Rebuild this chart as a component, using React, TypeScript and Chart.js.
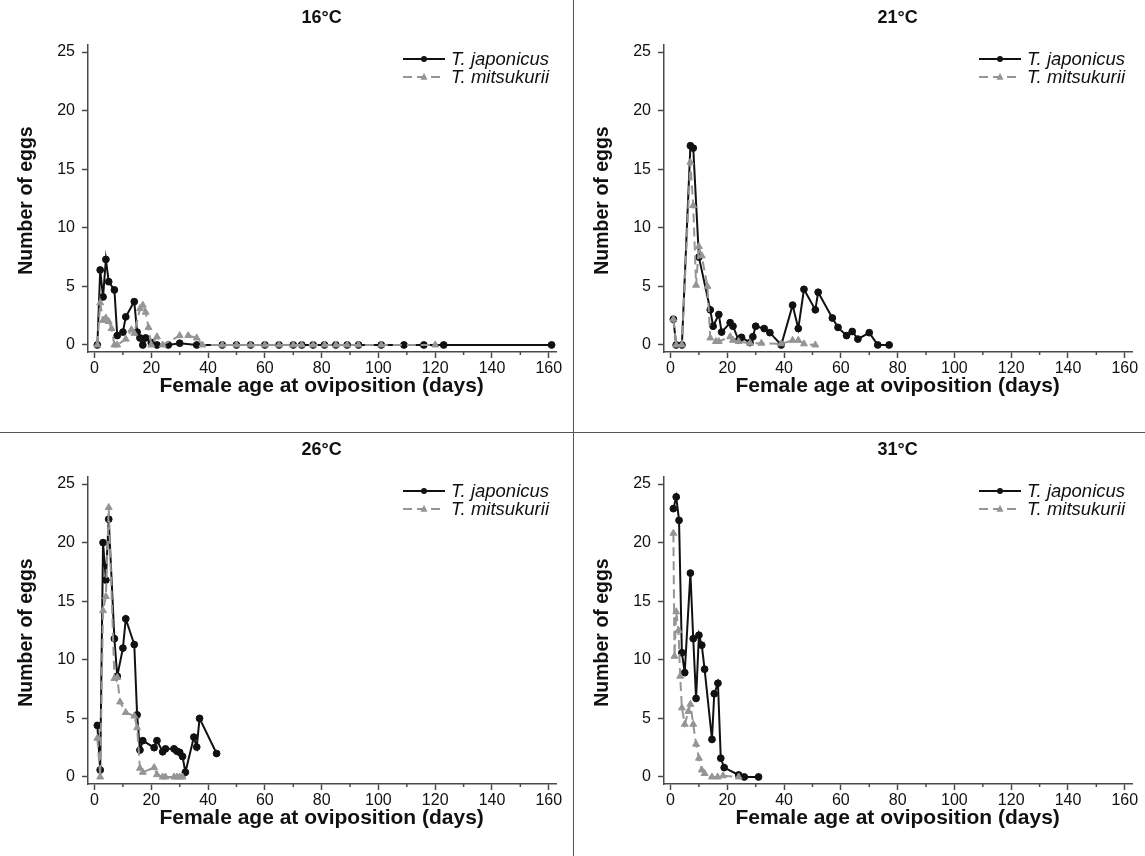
import React, { useEffect, useRef } from 'react';
import { Chart, registerables } from 'chart.js';

Chart.register(...registerables);

const FONT = '"Liberation Sans", Arial, Helvetica, sans-serif';

// ---- Data (female age in days, mean number of eggs) ----
// 16°C
const jap16Days = [1, 2, 3, 4, 5, 7, 8, 10, 11, 14, 15, 16, 17, 18, 20, 22, 26, 30, 36, 45, 50, 55, 60, 65, 70, 73, 77, 81, 85, 89, 93, 101, 109, 116, 123, 161];
const jap16Eggs = [0, 6.4, 4.1, 7.3, 5.4, 4.7, 0.8, 1.1, 2.4, 3.7, 1.1, 0.6, 0, 0.6, 0.2, 0, 0, 0.15, 0, 0, 0, 0, 0, 0, 0, 0, 0, 0, 0, 0, 0, 0, 0, 0, 0, 0];
const mit16Days = [1, 2, 3, 4, 5, 6, 7, 8, 11, 13, 14, 16, 17, 18, 19, 20, 22, 24, 30, 33, 36, 38, 45, 50, 55, 60, 65, 70, 73, 77, 81, 85, 89, 93, 101, 120];
const mit16Eggs = [0, 3.6, 2.1, 2.3, 2.0, 1.4, 0, 0, 0.5, 1.3, 1.0, 3.1, 3.4, 2.8, 1.5, 0, 0.7, 0, 0.8, 0.8, 0.6, 0, 0, 0, 0, 0, 0, 0, 0, 0, 0, 0, 0, 0, 0, 0];

// 21°C
const jap21Days = [1, 2, 4, 7, 8, 10, 14, 15, 17, 18, 21, 22, 24, 25, 28, 29, 30, 33, 35, 39, 43, 45, 47, 51, 52, 57, 59, 62, 64, 66, 70, 73, 77];
const jap21Eggs = [2.2, 0, 0, 17.0, 16.8, 7.5, 3.0, 1.6, 2.6, 1.1, 1.9, 1.6, 0.4, 0.65, 0.2, 0.7, 1.6, 1.4, 1.05, 0, 3.4, 1.4, 4.75, 3.0, 4.5, 2.3, 1.5, 0.8, 1.15, 0.5, 1.05, 0, 0];
const mit21Days = [1, 2, 4, 7, 8, 9, 10, 11, 13, 14, 16, 17, 21, 22, 24, 28, 32, 39, 43, 45, 47, 51];
const mit21Eggs = [2.2, 0, 0, 15.6, 11.9, 5.1, 8.4, 7.6, 5.0, 0.6, 0.3, 0.3, 0.7, 0.4, 0.3, 0.15, 0.15, 0.1, 0.4, 0.4, 0.1, 0];

// 26°C
const jap26Days = [1, 2, 3, 4, 5, 7, 8, 10, 11, 14, 15, 16, 17, 21, 22, 24, 25, 28, 29, 30, 31, 32, 35, 36, 37, 43];
const jap26Eggs = [4.4, 0.6, 20.0, 16.8, 22.0, 11.8, 8.6, 11.0, 13.5, 11.3, 5.3, 2.3, 3.1, 2.5, 3.1, 2.15, 2.4, 2.4, 2.2, 2.1, 1.75, 0.4, 3.4, 2.55, 5.0, 2.0];
const mit26Days = [1, 2, 3, 4, 5, 7, 8, 9, 11, 14, 15, 16, 17, 21, 22, 24, 25, 28, 29, 30, 31];
const mit26Eggs = [3.3, 0, 14.2, 15.4, 23.0, 8.4, 8.5, 6.4, 5.5, 5.2, 4.2, 0.75, 0.4, 0.8, 0.2, 0, 0, 0, 0, 0, 0];

// 31°C
const jap31Days = [1, 2, 3, 4, 5, 7, 8, 9, 10, 11, 12, 14.6, 15.4, 16.7, 17.7, 18.9, 24, 26, 31];
const jap31Eggs = [22.9, 23.9, 21.9, 10.6, 8.9, 17.4, 11.8, 6.7, 12.1, 11.25, 9.2, 3.2, 7.1, 8.0, 1.6, 0.8, 0.17, 0, 0];
const mit31Days = [1, 1.4, 2, 2.8, 3.4, 4, 5, 6.3, 7, 8, 9, 10, 11, 12, 14.6, 16.6, 18.5, 24];
const mit31Eggs = [20.8, 10.3, 14.1, 12.5, 8.6, 5.9, 4.5, 5.6, 6.2, 4.5, 2.8, 1.6, 0.6, 0.3, 0, 0, 0.1, 0];

const seriesNames = ['T. japonicus', 'T. mitsukurii'];
const xTickStep = 20;
const xMinorStep = 10;
const yTickStep = 5;

const AXIS_COLOR = '#4a4a4a';
const JAP_COLOR = '#111';
const MIT_COLOR = '#959595';

const PANEL_W = 572;
const PANEL_H = 432;

function toPoints(days: number[], eggs: number[]) {
  return days.map((d, i) => ({ x: d, y: eggs[i] }));
}

const decorPlugin = {
  id: 'panelDecor',
  afterDraw(chart: any, _args: any, opts: any) {
    const ctx = chart.ctx as CanvasRenderingContext2D;
    const area = chart.chartArea;
    const xs = chart.scales.x;
    ctx.save();

    // minor x ticks
    ctx.strokeStyle = AXIS_COLOR;
    ctx.lineWidth = 1.5;
    for (let v = xMinorStep; v < 160; v += xTickStep) {
      const px = xs.getPixelForValue(v);
      ctx.beginPath();
      ctx.moveTo(px, area.bottom);
      ctx.lineTo(px, area.bottom + 3);
      ctx.stroke();
    }

    const cx = xs.getPixelForValue(80);

    // panel title
    ctx.fillStyle = '#111';
    ctx.font = `bold 18px ${FONT}`;
    ctx.textAlign = 'center';
    ctx.textBaseline = 'middle';
    ctx.fillText(opts.title, cx, 18);

    // x axis title
    ctx.font = `bold 21px ${FONT}`;
    ctx.fillText('Female age at oviposition (days)', cx, 386);

    // y axis title
    ctx.font = `bold 19.5px ${FONT}`;
    ctx.save();
    ctx.translate(27, (area.top + area.bottom) / 2 + 2);
    ctx.rotate(-Math.PI / 2);
    ctx.fillText('Number of eggs', 0, 0);
    ctx.restore();

    // legend
    const lx0 = 403;
    const lx1 = 445;
    const rows = [59, 77];
    chart.data.datasets.forEach((ds: any, i: number) => {
      const y = rows[i];
      ctx.strokeStyle = ds.borderColor;
      ctx.lineWidth = 2;
      ctx.setLineDash(ds.borderDash || []);
      ctx.beginPath();
      ctx.moveTo(lx0, y);
      ctx.lineTo(lx1, y);
      ctx.stroke();
      ctx.setLineDash([]);
      const mx = (lx0 + lx1) / 2;
      ctx.fillStyle = ds.backgroundColor;
      ctx.beginPath();
      if (ds.pointStyle === 'triangle') {
        const r = 3.5;
        ctx.moveTo(mx, y - r * 1.2);
        ctx.lineTo(mx + r, y + r * 0.8);
        ctx.lineTo(mx - r, y + r * 0.8);
        ctx.closePath();
      } else {
        ctx.arc(mx, y, 3, 0, Math.PI * 2);
      }
      ctx.fill();
      ctx.fillStyle = '#111';
      ctx.font = `italic 18.5px ${FONT}`;
      ctx.textAlign = 'left';
      ctx.fillText(ds.label, 451, y + 1);
    });

    ctx.restore();
  },
};

type PanelProps = {
  title: string;
  japDays: number[];
  japEggs: number[];
  mitDays: number[];
  mitEggs: number[];
  left: number;
  top: number;
};

function Panel({ title, japDays, japEggs, mitDays, mitEggs, left, top }: PanelProps) {
  const ref = useRef<HTMLCanvasElement | null>(null);
  useEffect(() => {
    if (!ref.current) return;
    const chart = new Chart(ref.current, {
      type: 'line',
      data: {
        datasets: [
          {
            label: seriesNames[0],
            data: toPoints(japDays, japEggs),
            borderColor: JAP_COLOR,
            backgroundColor: JAP_COLOR,
            borderWidth: 2,
            pointStyle: 'circle',
            pointRadius: 3.4,
            pointBorderWidth: 1,
            pointBorderColor: JAP_COLOR,
            pointBackgroundColor: JAP_COLOR,
            tension: 0,
            order: 1,
          },
          {
            label: seriesNames[1],
            data: toPoints(mitDays, mitEggs),
            borderColor: MIT_COLOR,
            backgroundColor: MIT_COLOR,
            borderWidth: 2,
            borderDash: [9, 5],
            pointStyle: 'triangle',
            pointRadius: 4,
            pointBorderWidth: 1,
            pointBorderColor: MIT_COLOR,
            pointBackgroundColor: MIT_COLOR,
            tension: 0,
            order: 0,
          },
        ] as any,
      },
      options: {
        responsive: false,
        animation: false,
        events: [],
        layout: { padding: { left: 0, top: 45, right: 15.3, bottom: 0 } },
        plugins: {
          legend: { display: false },
          title: { display: false },
          tooltip: { enabled: false },
          panelDecor: { title },
        } as any,
        scales: {
          x: {
            type: 'linear',
            min: -2.3,
            max: 162.8,
            afterFit: (s: any) => {
              s.height = 80;
            },
            border: { display: true, color: AXIS_COLOR, width: 1.5 },
            grid: { display: true, drawOnChartArea: false, drawTicks: true, tickLength: 6, tickColor: AXIS_COLOR, tickWidth: 1.5 },
            ticks: {
              stepSize: xTickStep,
              includeBounds: false,
              autoSkip: false,
              maxRotation: 0,
              padding: 1,
              color: '#111',
              font: { family: FONT, size: 16 },
            },
          },
          y: {
            type: 'linear',
            min: -0.6,
            max: 25.6,
            afterFit: (s: any) => {
              s.width = 88;
            },
            border: { display: true, color: AXIS_COLOR, width: 1.5 },
            grid: { display: true, drawOnChartArea: false, drawTicks: true, tickLength: 6, tickColor: AXIS_COLOR, tickWidth: 1.5 },
            ticks: {
              stepSize: yTickStep,
              includeBounds: false,
              padding: 7,
              color: '#111',
              font: { family: FONT, size: 16 },
            },
          },
        },
      } as any,
      plugins: [decorPlugin],
    });
    return () => chart.destroy();
  }, [title, japDays, japEggs, mitDays, mitEggs]);

  return (
    <canvas
      ref={ref}
      width={PANEL_W}
      height={PANEL_H}
      style={{ position: 'absolute', left, top, width: PANEL_W, height: PANEL_H }}
    />
  );
}

export default function App() {
  return (
    <div
      style={{
        position: 'absolute',
        left: 0,
        top: 0,
        width: 1145,
        height: 856,
        overflow: 'hidden',
        background: '#fff',
      }}
    >
      <Panel title="16°C" japDays={jap16Days} japEggs={jap16Eggs} mitDays={mit16Days} mitEggs={mit16Eggs} left={0} top={0} />
      <Panel title="21°C" japDays={jap21Days} japEggs={jap21Eggs} mitDays={mit21Days} mitEggs={mit21Eggs} left={576} top={0} />
      <Panel title="26°C" japDays={jap26Days} japEggs={jap26Eggs} mitDays={mit26Days} mitEggs={mit26Eggs} left={0} top={432} />
      <Panel title="31°C" japDays={jap31Days} japEggs={jap31Eggs} mitDays={mit31Days} mitEggs={mit31Eggs} left={576} top={432} />
      <div style={{ position: 'absolute', left: 572.5, top: 0, width: 1.5, height: 856, background: '#555' }} />
      <div style={{ position: 'absolute', left: 0, top: 431.5, width: 1145, height: 1.5, background: '#555' }} />
    </div>
  );
}
